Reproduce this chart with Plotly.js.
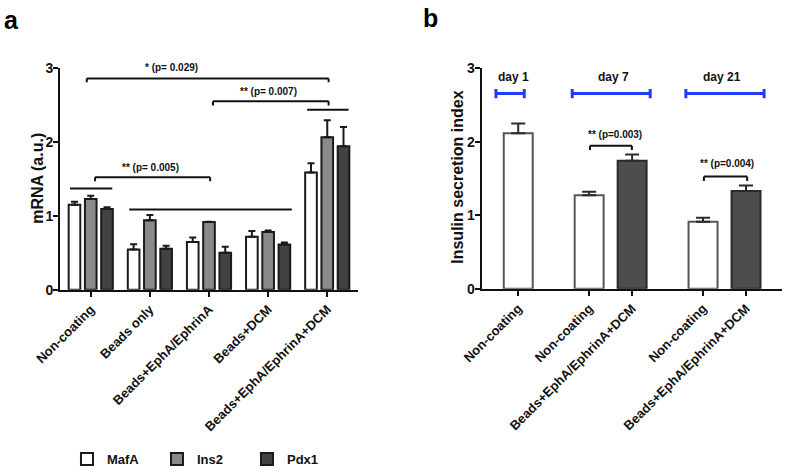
<!DOCTYPE html>
<html>
<head>
<meta charset="utf-8">
<script src="https://cdn.plot.ly/plotly-3.0.1.min.js"></script>
<style>html,body{margin:0;padding:0;background:#fff;}#chart{width:788px;height:474px;}</style>
</head>
<body>
<div id="chart"></div>
<script>
// ---------- Panel a data ----------
const groupsA = ["Non-coating", "Beads only", "Beads+EphA/EphrinA", "Beads+DCM", "Beads+EphA/EphrinA+DCM"];
const mafA = [1.15, 0.545, 0.645, 0.715, 1.585];
const mafAErr = [0.04, 0.07, 0.06, 0.08, 0.125];
const ins2 = [1.225, 0.94, 0.915, 0.78, 2.06];
const ins2Err = [0.045, 0.07, 0.005, 0.02, 0.23];
const pdx1 = [1.09, 0.555, 0.50, 0.61, 1.94];
const pdx1Err = [0.025, 0.04, 0.08, 0.03, 0.26];
const titleA = "mRNA (a.u.)";

// ---------- Panel b data ----------
const labelsB = ["Non-coating", "Non-coating", "Beads+EphA/EphrinA+DCM", "Non-coating", "Beads+EphA/EphrinA+DCM"];
const dayOfB = [0, 1, 1, 2, 2];
const isBeadsB = [false, false, true, false, true];
const dayLabels = ["day 1", "day 7", "day 21"];
const insulinIdx = [2.115, 1.27, 1.74, 0.91, 1.33];
const insulinErr = [0.13, 0.05, 0.085, 0.055, 0.075];
const titleB = "Insulin secretion index";

// slot positions for panel b: bar index plus an extra gap between days
const dayGap = 0.65;
const xB = insulinIdx.map((_, i) => i + dayOfB[i] * dayGap);

const FONT = "Liberation Sans, Arial, Helvetica, sans-serif";
const bold = (size, color) => ({family: FONT, size: size, color: color || "#111", weight: "bold"});
const zeros = n => new Array(n).fill(0);

function barA(name, y, err, fill) {
  return {
    type: "bar", name: name, x: groupsA, y: y, xaxis: "x", yaxis: "y",
    marker: {color: fill, line: {color: "#1a1a1a", width: 2}},
    error_y: {type: "data", array: err, arrayminus: zeros(err.length), symmetric: false,
              color: "#1a1a1a", thickness: 2, width: 3.5},
    hoverinfo: "none"
  };
}

const traces = [
  barA("MafA", mafA, mafAErr, "#ffffff"),
  barA("Ins2", ins2, ins2Err, "#8a8a8a"),
  barA("Pdx1", pdx1, pdx1Err, "#424242"),
  {
    type: "bar", x: xB, y: insulinIdx, xaxis: "x2", yaxis: "y2", width: 0.674,
    showlegend: false,
    marker: {color: isBeadsB.map(b => b ? "#4d4d4d" : "#ffffff"),
             line: {color: isBeadsB.map(b => b ? "#2a2a2a" : "#555555"), width: 2}},
    error_y: {type: "data", array: insulinErr, arrayminus: zeros(insulinErr.length), symmetric: false,
              color: "#2a2a2a", thickness: 2, width: 7},
    hoverinfo: "none"
  }
];

const shapes = [];
const annotations = [];
function bracket(xr, yr, x0, x1, y, drop, color, w) {
  const line = {color: color || "#111", width: w || 2};
  shapes.push({type: "line", xref: xr, yref: yr, x0: x0, x1: x1, y0: y, y1: y, line: line});
  if (drop) {
    shapes.push({type: "line", xref: xr, yref: yr, x0: x0, x1: x0, y0: y, y1: y - drop, line: line});
    shapes.push({type: "line", xref: xr, yref: yr, x0: x1, x1: x1, y0: y, y1: y - drop, line: line});
  }
}
function label(xr, yr, x, y, text, size) {
  annotations.push({xref: xr, yref: yr, x: x, y: y, text: text, showarrow: false,
                    xanchor: "center", yanchor: "middle", font: bold(size)});
}

// Panel a significance brackets
bracket("x", "y", -0.067, 4.023, 2.853, 0.05);
label("x", "y", 1.37, 3.0, "* (p= 0.029)", 10);
bracket("x", "y", 2.067, 4.023, 2.548, 0.06);
label("x", "y", 3.0, 2.68, "** (p= 0.007)", 10);
bracket("x", "y", 3.66, 4.36, 2.432, 0);
bracket("x", "y", 0.073, 2.02, 1.521, 0.055);
label("x", "y", 1.005, 1.651, "** (p= 0.005)", 10);
bracket("x", "y", -0.35, 0.364, 1.369, 0);
bracket("x", "y", 0.651, 3.4, 1.086, 0);

// Panel b day bars (blue) and brackets
const dayRanges = [[-0.519, 0.14], [1.256, 3.07], [3.9, 5.72]];
const dayTextX = [-0.116, 2.21, 4.73];
dayLabels.forEach((d, i) => {
  label("x2", "y2", dayTextX[i], 2.878, d, 12);
  const r = dayRanges[i];
  const blue = {color: "#1f3cff", width: 3};
  shapes.push({type: "line", xref: "x2", yref: "y2", x0: r[0], x1: r[1], y0: 2.652, y1: 2.652, line: blue});
  shapes.push({type: "line", xref: "x2", yref: "y2", x0: r[0], x1: r[0], y0: 2.589, y1: 2.716, line: blue});
  shapes.push({type: "line", xref: "x2", yref: "y2", x0: r[1], x1: r[1], y0: 2.589, y1: 2.716, line: blue});
});
bracket("x2", "y2", 1.67, 2.644, 1.945, 0.06);
label("x2", "y2", 2.25, 2.093, "** (p=0.003)", 10);
bracket("x2", "y2", 4.32, 5.326, 1.525, 0.06);
label("x2", "y2", 4.85, 1.70, "** (p=0.004)", 10);

// Y-axis titles (placed as rotated text beside each axis)
annotations.push({xref: "paper", yref: "paper", x: 38 / 788, y: 1 - 179.5 / 474, text: titleA, textangle: -90,
                  showarrow: false, xanchor: "center", yanchor: "middle", font: bold(16)});
annotations.push({xref: "paper", yref: "paper", x: 457.5 / 788, y: 1 - 178 / 474, text: titleB, textangle: -90,
                  showarrow: false, xanchor: "center", yanchor: "middle", font: bold(16)});

// Panel letters
annotations.push({xref: "paper", yref: "paper", x: 11 / 788, y: 1 - 20 / 474, text: "a", showarrow: false,
                  xanchor: "center", yanchor: "middle", font: bold(25, "#000")});
annotations.push({xref: "paper", yref: "paper", x: 430 / 788, y: 1 - 18 / 474, text: "b", showarrow: false,
                  xanchor: "center", yanchor: "middle", font: bold(25, "#000")});

const axisCommon = {
  showline: true, linecolor: "#111", linewidth: 2, showgrid: false, zeroline: false,
  ticks: "outside", ticklen: 5, tickwidth: 2, tickcolor: "#111"
};

const layout = {
  width: 788, height: 474,
  margin: {l: 0, r: 0, t: 0, b: 0},
  paper_bgcolor: "#fff", plot_bgcolor: "#fff",
  barmode: "group", bargap: 0.175, bargroupgap: 0.284,
  showlegend: true,
  legend: {orientation: "h", x: 0.085, y: 1 - 461 / 474, xanchor: "left", yanchor: "middle",
           font: bold(13), entrywidth: 45, entrywidthmode: "pixels", traceorder: "normal"},
  xaxis: Object.assign({}, axisCommon, {domain: [60 / 788, 358 / 788], range: [-0.52, 4.52],
           type: "category", tickangle: -45, anchor: "y", tickfont: bold(13)}),
  yaxis: Object.assign({}, axisCommon, {domain: [1 - 291 / 474, 1 - 68 / 474], range: [0, 3], dtick: 1,
           anchor: "x", tickfont: bold(14), ticklabelstandoff: -3}),
  xaxis2: Object.assign({}, axisCommon, {domain: [481.7 / 788, 781.7 / 788], range: [-0.85, 6.13],
           tickvals: xB, ticktext: labelsB, tickangle: -45, anchor: "y2", tickfont: bold(13)}),
  yaxis2: Object.assign({}, axisCommon, {domain: [1 - 290 / 474, 1 - 68.3 / 474], range: [0, 3], dtick: 1,
           anchor: "x2", tickfont: bold(14), ticklabelstandoff: -3}),
  shapes: shapes,
  annotations: annotations
};

Plotly.newPlot("chart", traces, layout, {displayModeBar: false, staticPlot: true});
</script>
</body>
</html>
